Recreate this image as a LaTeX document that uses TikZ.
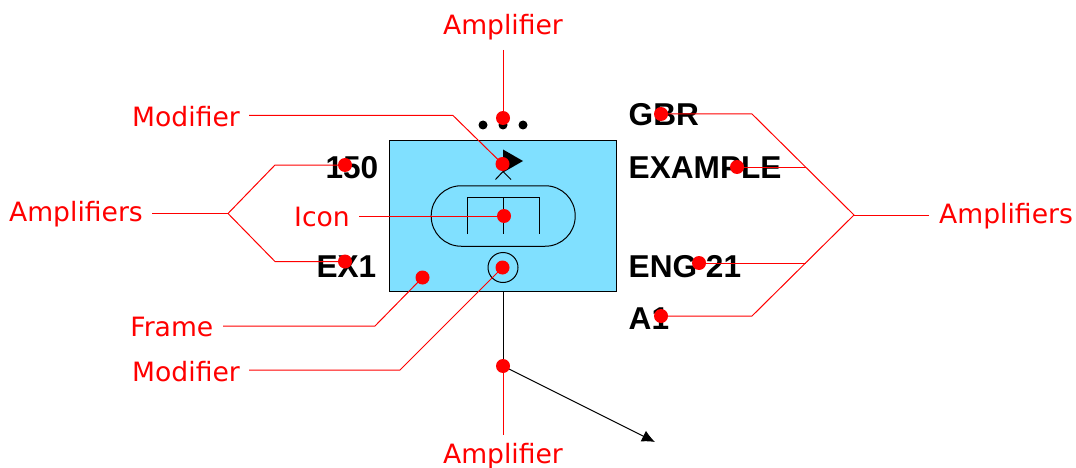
\documentclass[tikz,border=0pt]{standalone}
\usepackage{fontspec}
\setmainfont{DejaVu Sans}
\newfontfamily\boldlabel{Liberation Sans Bold}
\usetikzlibrary{arrows.meta}
\definecolor{framefill}{RGB}{128,224,255}
\tikzset{
  x=1pt,y=-1pt,
  redlbl/.style={text=red,font=\fontsize{26.6}{30}\selectfont,inner sep=0pt},
  amp/.style={font=\boldlabel\fontsize{31.6}{36}\selectfont,inner sep=0pt,text=black},
  leader/.style={draw=red,line width=1pt},
  reddot/.style={circle,fill=red,minimum size=14pt,inner sep=0pt},
  blackdot/.style={circle,fill=black,minimum size=9pt,inner sep=0pt},
  sym/.style={draw=black,line width=1pt},
}
\begin{document}
\begin{tikzpicture}
\useasboundingbox (0,0) rectangle (1076,468);
% frame and symbol
\node[draw=black,fill=framefill,line width=1pt,minimum width=227.5pt,minimum height=151pt,inner sep=0pt] (frame) at (503.2,216) {};
\node[draw=black,line width=1pt,rounded corners=30pt,minimum width=144pt,minimum height=60.5pt,inner sep=0pt] (pill) at (503.2,216) {};
\node[draw=black,circle,line width=1pt,minimum size=30pt,inner sep=0pt] (ring) at (503,267.5) {};
\coordinate (iL) at (467,197.7); \coordinate (iC) at (503,197.7); \coordinate (iR) at (539.5,197.7);
\draw[sym] (467,234) -- (iL) -- (iR) -- (539.5,234);
\draw[sym] (iC) -- (503,234);
\fill[black] (503,149.5) -- (523,161) -- (503,172.5) -- cycle;
\draw[sym] (495.5,179.5) -- (503,171.5) -- (511,179.5);
% echelon dots
\node[blackdot] (d1) at (483,125) {};
\node[blackdot] (d2) at (503,125) {};
\node[blackdot] (d3) at (523,125) {};
% staff and direction arrow
\coordinate (staffend) at (503,366);
\coordinate (arrowend) at (655,442);
\draw[sym] (frame.south -| staffend) -- (staffend);
\draw[sym,-{Latex[length=13pt,width=12pt]}] (staffend) -- (arrowend);
% amplifier texts
\node[amp,anchor=base east] (t150) at (378.5,178) {150};
\node[amp,anchor=base east] (tex1) at (376.5,277) {EX1};
\node[amp,anchor=base west] (tgbr) at (628.5,126) {GBR};
\node[amp,anchor=base west] (texa) at (628.5,178) {EXAMPLE};
\node[amp,anchor=base west] (teng) at (628.5,277) {ENG 21};
\node[amp,anchor=base west] (ta1) at (628.5,329) {A1};
% red labels
\node[redlbl] (lTop) at (503,27.5) {Amplifier};
\node[redlbl] (lBot) at (503,456) {Amplifier};
\node[redlbl,anchor=east] (lMod1) at (240,117) {Modifier};
\node[redlbl,anchor=east] (lMod2) at (240,371.5) {Modifier};
\node[redlbl,anchor=east] (lIcon) at (350,217) {Icon};
\node[redlbl,anchor=east] (lFrame) at (213.5,327) {Frame};
\node[redlbl,anchor=east] (lLeft) at (143,214) {Amplifiers};
\node[redlbl,anchor=west] (lRight) at (939,216) {Amplifiers};
% red dots
\node[reddot] (pTop) at (503,118) {};
\node[reddot] (pMod1) at (502.5,164) {};
\node[reddot] (pIcon) at (504,216) {};
\node[reddot] (pMod2) at (502.5,267.5) {};
\node[reddot] (pFrame) at (422.5,277.5) {};
\node[reddot] (pBot) at (503,366) {};
\node[reddot] (p150) at (345,165) {};
\node[reddot] (pEx1) at (345,261.5) {};
\node[reddot] (pGbr) at (661,114) {};
\node[reddot] (pExa) at (737,167) {};
\node[reddot] (pEng) at (699,263) {};
\node[reddot] (pA1) at (661,316) {};
% leader bends
\coordinate (fL) at (228,213.5);
\coordinate (fR) at (854,215);
\coordinate (jE) at (806,167);
\coordinate (jN) at (806,263);
% leaders
\draw[leader] (503,50) -- (pTop.center);
\draw[leader] (pBot.center) -- (503,435);
\draw[leader] (249,115.5) -- (453,115.5) -- (pMod1.center);
\draw[leader] (359,216) -- (pIcon.center);
\draw[leader] (249,370) -- (400,370) -- (pMod2.center);
\draw[leader] (223,326) -- (375,326) -- (pFrame.center);
\draw[leader] (152,213.5) -- (fL);
\draw[leader] (p150.center) -- (275,165) -- (fL) -- (275,261.5) -- (pEx1.center);
\draw[leader] (929,215) -- (fR);
\draw[leader] (pGbr.center) -- (752,114) -- (fR) -- (752,316) -- (pA1.center);
\draw[leader] (pExa.center) -- (jE);
\draw[leader] (pEng.center) -- (jN);
\end{tikzpicture}
\end{document}
